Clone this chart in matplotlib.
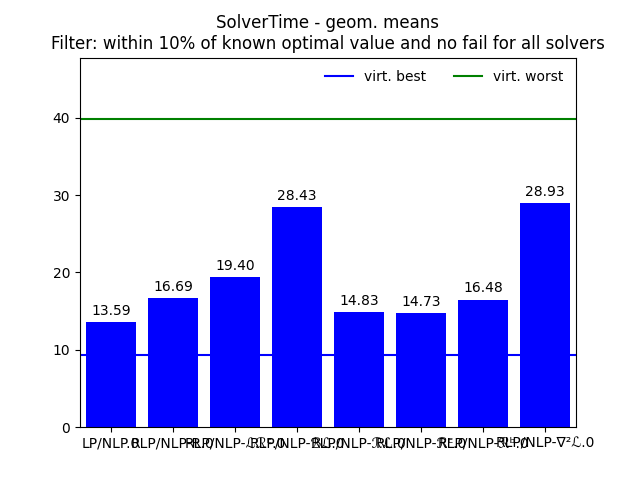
import matplotlib
matplotlib.use('Agg')
import matplotlib.pyplot as plt
import numpy as np

# DATA
solvers = ['LP/NLP.0', 'RLP/NLP-R.0', 'RLP/NLP-ℒℛᴱ.0', 'RLP/NLP-ℬℒ.0',
           'RLP/NLP-ℛℒ.0', 'RLP/NLP-ℛᴱ.0', 'RLP/NLP-ℛᵇ.0', 'RLP/NLP-∇²ℒ.0']
geom_means = [13.59, 16.69, 19.40, 28.43, 14.83, 14.73, 16.48, 28.93]
virt_best = 9.3
virt_worst = 39.8

fig, ax = plt.subplots(figsize=(6.4, 4.8), dpi=100)
x = np.arange(len(solvers))
bars = ax.bar(x, geom_means, color='blue')
ax.bar_label(bars, fmt='%.2f', padding=3)
ax.axhline(virt_best, color='blue', label='virt. best')
ax.axhline(virt_worst, color='green', label='virt. worst')
ax.set_xticks(x)
ax.set_xticklabels(solvers)
ax.set_xlim(-0.5, len(solvers) - 0.5)
ax.set_ylim(0, 1.2 * virt_worst)
ax.legend(loc='upper right', ncol=2, frameon=False)
ax.set_title('SolverTime - geom. means\nFilter: within 10% of known optimal value and no fail for all solvers')

plt.savefig('out.png', dpi=100)
